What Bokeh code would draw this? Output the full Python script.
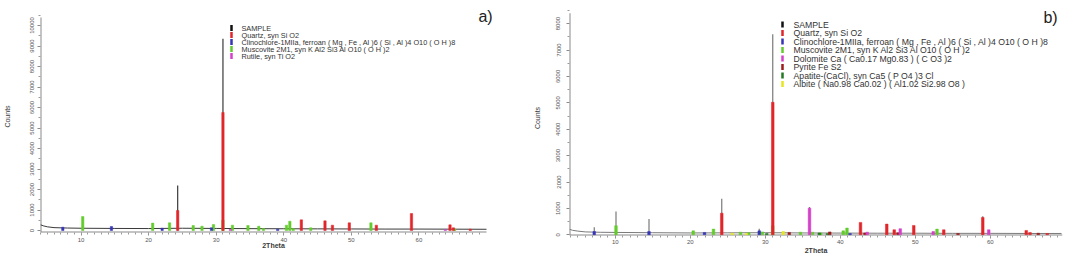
import numpy as np
from bokeh.plotting import figure
from bokeh.layouts import row
from bokeh.models import ColumnDataSource, Label, FixedTicker
from bokeh.embed import file_html
from bokeh.resources import INLINE
from bokeh.core.properties import value

# ---------------- panel a) data ----------------
a_bg_x = [4.0, 4.4, 5.0, 6.0, 8.0, 10.0, 15.0, 20.0, 25.0, 30.0, 35.0, 40.0, 45.0, 50.0, 55.0, 60.0, 65.0, 70.0]
a_bg_y = [280, 230, 180, 140, 120, 110, 100, 95, 110, 100, 90, 85, 80, 75, 70, 70, 65, 60]
a_sample_pos = [24.3, 31.0]
a_sample_h = [2200, 9350]
a_quartz_pos = [24.3, 31.0, 42.6, 46.1, 47.2, 49.7, 53.7, 58.9, 64.6, 65.1, 67.6]
a_quartz_h = [975, 5760, 520, 470, 260, 375, 260, 830, 275, 130, 65]
a_clino_pos = [7.3, 14.5, 22.0, 29.3, 39.1]
a_clino_h = [160, 195, 110, 130, 65]
a_musc_pos = [10.25, 20.6, 23.1, 26.6, 27.9, 29.6, 31.0, 32.4, 34.7, 36.3, 37.0, 40.4, 40.9, 41.4, 44.0, 52.9, 65.3]
a_musc_h = [680, 360, 375, 245, 210, 290, 500, 260, 245, 210, 100, 260, 455, 90, 130, 375, 70]
a_rutile_pos = [32.1, 63.9]
a_rutile_h = [60, 40]
a_legend = ["SAMPLE", "Quartz, syn Si O2",
            "Clinochlore-1MIIa, ferroan ( Mg , Fe , Al )6 ( Si , Al )4 O10 ( O H )8",
            "Muscovite 2M1, syn K Al2 Si3 Al O10 ( O H )2",
            "Rutile, syn Ti O2"]
a_yticks = [0, 1000, 2000, 3000, 4000, 5000, 6000, 7000, 8000, 9000, 10000]

# ---------------- panel b) data ----------------
b_bg_x = [3.9, 4.3, 5.0, 6.0, 8.0, 10.0, 15.0, 20.0, 25.0, 30.0, 35.0, 40.0, 45.0, 50.0, 55.0, 60.0, 65.0, 69.5]
b_bg_y = [210, 170, 140, 110, 95, 90, 80, 70, 75, 80, 70, 65, 60, 60, 55, 55, 50, 50]
b_sample_pos = [7.2, 10.1, 14.5, 24.2, 29.2, 31.0, 35.9, 59.0]
b_sample_h = [290, 885, 595, 1370, 230, 7600, 1050, 700]
b_quartz_pos = [24.2, 31.0, 42.7, 46.2, 47.2, 49.8, 53.8, 59.0, 64.8, 65.3, 67.6]
b_quartz_h = [820, 5020, 470, 405, 190, 355, 190, 660, 165, 90, 50]
b_clino_pos = [7.2, 14.5, 21.9, 29.2, 41.3]
b_clino_h = [125, 125, 90, 150, 50]
b_musc_pos = [10.1, 20.4, 23.1, 26.7, 27.8, 29.6, 31.0, 34.7, 36.3, 37.4, 40.4, 40.9, 52.9]
b_musc_h = [340, 150, 215, 100, 80, 110, 340, 100, 100, 70, 150, 255, 215]
b_dolo_pos = [35.9, 43.6, 48.0, 52.4, 59.8]
b_dolo_h = [1010, 100, 230, 125, 190]
b_pyrite_pos = [33.2, 38.6, 43.3, 47.7, 55.7, 66.4]
b_pyrite_h = [90, 110, 70, 80, 50, 60]
b_apatite_pos = [30.2, 37.2, 38.3]
b_apatite_h = [50, 70, 50]
b_albite_pos = [25.6, 27.5, 32.4]
b_albite_h = [60, 50, 125]
b_legend = ["SAMPLE", "Quartz, syn Si O2",
            "Clinochlore-1MIIa, ferroan ( Mg , Fe , Al )6 ( Si , Al )4 O10 ( O H )8",
            "Muscovite 2M1, syn K Al2 Si3 Al O10 ( O H )2",
            "Dolomite Ca ( Ca0.17 Mg0.83 ) ( C O3 )2",
            "Pyrite Fe S2",
            "Apatite-(CaCl), syn Ca5 ( P O4 )3 Cl",
            "Albite  ( Na0.98 Ca0.02 ) ( Al1.02 Si2.98 O8 )"]
b_yticks = [0, 1000, 2000, 3000, 4000, 5000, 6000, 7000, 8000]

x_major = [10, 20, 30, 40, 50, 60]

C_RED = "#e0262b"
C_BLUE = "#3535b8"
C_GREEN = "#62cc2c"
C_MAG = "#d63fc8"
C_DRED = "#9c1c1c"
C_DGREEN = "#237a23"
C_YEL = "#e6e620"
C_AX = "#8a8a8a"

FONT = "Liberation Sans"


def make_panel(fw, fh, bl, br, bt, bb, xr, yr, yticks, axis_top, axis_right):
    p = figure(frame_width=fw, frame_height=fh, x_range=xr, y_range=yr,
               output_backend="svg", toolbar_location=None,
               min_border_left=bl, min_border_right=br,
               min_border_top=bt, min_border_bottom=bb)
    p.outline_line_color = None
    p.grid.visible = False
    p.background_fill_color = "white"
    p.border_fill_color = "white"
    p.xaxis.ticker = FixedTicker(ticks=x_major, minor_ticks=list(range(4, 70)))
    ystep = yticks[1] - yticks[0]
    p.yaxis.ticker = FixedTicker(ticks=yticks,
                                 minor_ticks=[t + ystep // 2 for t in yticks])
    for ax in (p.xaxis, p.yaxis):
        ax.axis_line_color = None
        ax.major_tick_line_color = C_AX
        ax.minor_tick_line_color = "#9a9a9a"
        ax.major_tick_in = 0
        ax.major_tick_out = 3
        ax.minor_tick_in = 0
        ax.minor_tick_out = 2
        ax.major_label_text_font = FONT
        ax.major_label_text_font_size = "6px"
        ax.major_label_text_color = "#555555"
        ax.axis_label_text_font = FONT
        ax.axis_label_text_font_size = "7px"
        ax.axis_label_text_color = "#3a3a3a"
    p.yaxis.major_label_orientation = "vertical"
    p.yaxis.axis_label = "Counts"
    p.yaxis.axis_label_text_font_style = "normal"
    p.xaxis.axis_label = "2Theta"
    p.xaxis.axis_label_text_font_style = "bold"
    # axis lines drawn so that they stop where the reference's axes stop
    p.segment(x0=[xr[0], xr[0]], y0=[yr[0], yr[0]], x1=[xr[0], axis_right],
              y1=[axis_top, yr[0]], line_color=C_AX, line_width=2)
    return p


def add_phase(p, pos, h, color, w=0.35):
    src = ColumnDataSource(dict(x=pos, top=h))
    return p.vbar(x="x", top="top", bottom=0, width=w, source=src,
                  fill_color=color, line_color=color, line_width=0.5)


def add_sample(p, bgx, bgy, pos, h, color):
    p.segment(x0=pos, y0=[0] * len(pos), x1=pos, y1=h, line_color=color, line_width=1.2)
    p.line(bgx, bgy, line_color=color, line_width=1)


def add_legend(p, labels, colors, px2x, py2y, mx, tx, y0, dy, fs):
    ys = [py2y(y0 + i * dy) for i in range(len(labels))]
    p.rect(x=[px2x(mx)] * len(labels), y=ys, width=2.5, height=6,
           width_units="screen", height_units="screen",
           fill_color=colors, line_color=None)
    p.text(x=[px2x(tx)] * len(labels), y=ys, text=labels,
           text_font=value(FONT), text_font_size=value(fs),
           text_color="#333333", text_align="left", text_baseline="middle")


# ---------------- build panel a ----------------
# canvas: fig a at x 0..526, frame x 40..506 (axis to 486), frame y 0..232 (zero at y 230)
a_cpp = 1000.0 / 20.5            # counts per pixel
a_ppd = 446.0 / 66.0             # pixels per degree
a_xr = (4.0, 4.0 + 466 / a_ppd)
a_yr = (-2 * a_cpp, 230 * a_cpp)
pa = make_panel(466, 232, 40, 20, 0, 29, a_xr, a_yr, a_yticks, 10000 + 8 * a_cpp, 70.0)
pa.yaxis.major_label_standoff = 4
pa.yaxis.axis_label_standoff = 16
pa.xaxis.major_label_standoff = 2
pa.xaxis.axis_label_standoff = -3


def a_px2x(px):
    return a_xr[0] + (px - 40) / a_ppd


def a_py2y(py):
    return (230 - py) * a_cpp


add_sample(pa, a_bg_x, a_bg_y, a_sample_pos, a_sample_h, "#3a3a3a")
add_phase(pa, a_musc_pos, a_musc_h, C_GREEN)
add_phase(pa, a_clino_pos, a_clino_h, C_BLUE)
add_phase(pa, a_rutile_pos, a_rutile_h, C_MAG)
add_phase(pa, a_quartz_pos, a_quartz_h, C_RED)
add_legend(pa, a_legend, ["#111111", C_RED, C_BLUE, C_GREEN, C_MAG],
           a_px2x, a_py2y, 231, 241, 27.5, 7.0, "7.3px")
pa.add_layout(Label(x=445, y=232 - 16, x_units="screen", y_units="screen", text="a)",
                    text_font=FONT, text_font_size="16px", text_color="#222222",
                    text_align="center", text_baseline="middle"))

# ---------------- build panel b ----------------
# canvas: fig b at x 526..1066, frame x 569..1062, frame y 0..235 (zero at y 234.3)
b_cpp = 1000.0 / 26.4
b_xr = (3.9, 3.9 + 493 / 7.5)
b_yr = (-0.7 * b_cpp, 234.3 * b_cpp)
pb = make_panel(493, 235, 43, 4, 0, 26, b_xr, b_yr, b_yticks, 8000 + 10.3 * b_cpp, b_xr[1])
pb.yaxis.major_label_standoff = 6
pb.yaxis.axis_label_standoff = 13
pb.xaxis.major_label_standoff = 1
pb.xaxis.axis_label_standoff = 0


def b_px2x(px):
    return b_xr[0] + (px - 569) / 7.5


def b_py2y(py):
    return (234.3 - py) * b_cpp


add_sample(pb, b_bg_x, b_bg_y, b_sample_pos, b_sample_h, "#7a7a7a")
add_phase(pb, b_musc_pos, b_musc_h, C_GREEN)
add_phase(pb, b_clino_pos, b_clino_h, C_BLUE)
add_phase(pb, b_apatite_pos, b_apatite_h, C_DGREEN)
add_phase(pb, b_albite_pos, b_albite_h, C_YEL)
add_phase(pb, b_pyrite_pos, b_pyrite_h, C_DRED)
add_phase(pb, b_dolo_pos, b_dolo_h, C_MAG)
add_phase(pb, b_quartz_pos, b_quartz_h, C_RED)
add_legend(pb, b_legend, ["#111111", C_RED, C_BLUE, C_GREEN, C_MAG, C_DRED, C_DGREEN, C_YEL],
           b_px2x, b_py2y, 782, 793, 24.0, 8.5, "8.7px")
pb.add_layout(Label(x=1050 - 569, y=235 - 17, x_units="screen", y_units="screen", text="b)",
                    text_font=FONT, text_font_size="16px", text_color="#222222",
                    text_align="center", text_baseline="middle"))

layout = row(pa, pb)
open("out.html", "w").write(file_html(layout, INLINE))
